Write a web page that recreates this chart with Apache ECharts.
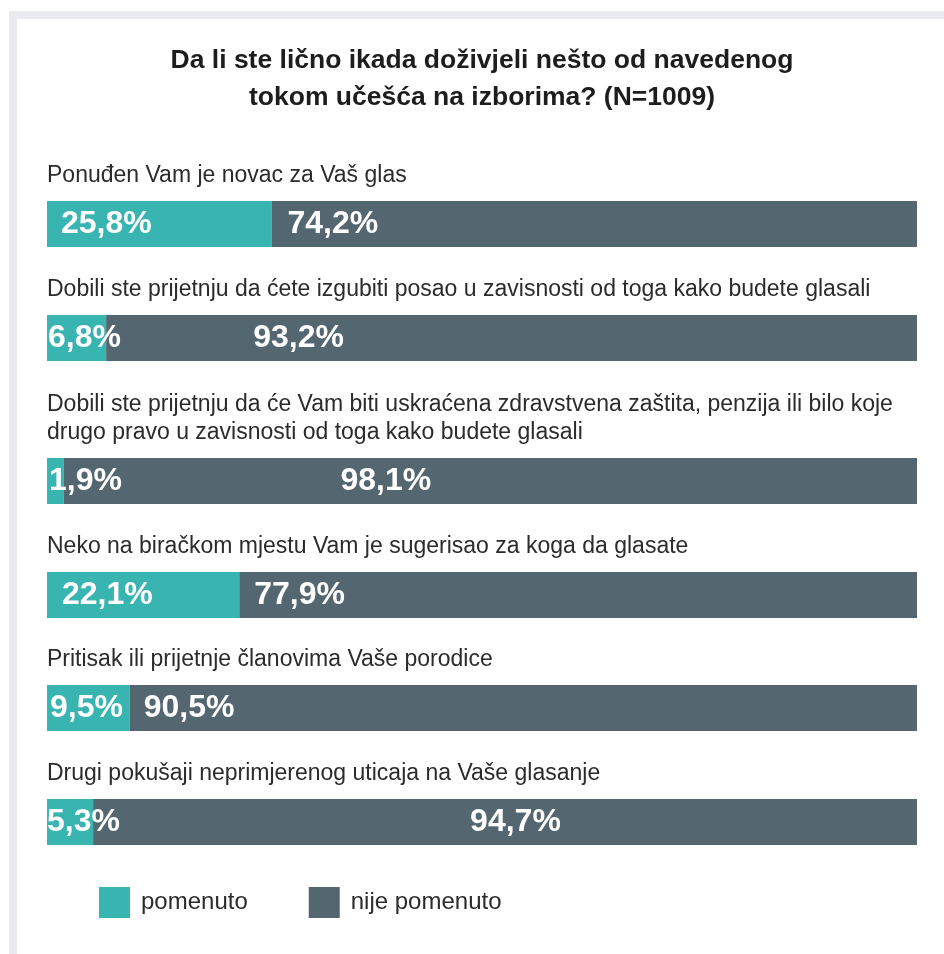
<!DOCTYPE html>
<html>
<head>
<meta charset="utf-8">
<title>Da li ste lično ikada doživjeli nešto od navedenog</title>
<script src="https://cdn.jsdelivr.net/npm/echarts@6/dist/echarts.min.js"></script>
<style>
  html, body { margin: 0; padding: 0; background: #fff; }
  #chart { width: 944px; height: 954px; }
</style>
</head>
<body>
<div id="chart"></div>
<script>
// podaci
const categories = [
  'Ponuđen Vam je novac za Vaš glas',
  'Dobili ste prijetnju da ćete izgubiti posao u zavisnosti od toga kako budete glasali',
  'Dobili ste prijetnju da će Vam biti uskraćena zdravstvena zaštita, penzija ili bilo koje\ndrugo pravo u zavisnosti od toga kako budete glasali',
  'Neko na biračkom mjestu Vam je sugerisao za koga da glasate',
  'Pritisak ili prijetnje članovima Vaše porodice',
  'Drugi pokušaji neprimjerenog uticaja na Vaše glasanje'
];
const pomenuto = [25.8, 6.8, 1.9, 22.1, 9.5, 5.3];
const nijePomenuto = [74.2, 93.2, 98.1, 77.9, 90.5, 94.7];
const seriesNames = ['pomenuto', 'nije pomenuto'];
const titleText = 'Da li ste lično ikada doživjeli nešto od navedenog\ntokom učešća na izborima? (N=1009)';

// raspored i stil
const barTops = [201, 315, 458, 572, 685, 799];
const barHeight = 46;
const tealLabelDist = [14, 1, 2, 15, 3, 0];
const darkLabelDist = [16, 147, 277, 15, 14, 377];
const colors = ['#38b4b1', '#546670'];
const font = "'Liberation Sans', Arial, Helvetica, sans-serif";

function fmt(p) {
  return p.value.toFixed(1).replace('.', ',') + '%';
}

const grids = [], xAxes = [], yAxes = [], series = [];
categories.forEach(function (cat, i) {
  grids.push({ left: 47, right: 27, top: barTops[i], height: barHeight });
  xAxes.push({ gridIndex: i, type: 'value', min: 0, max: 100, show: false });
  yAxes.push({
    gridIndex: i,
    type: 'category',
    data: [cat],
    axisLine: { show: false },
    axisTick: { show: false },
    axisLabel: { show: false },
    splitLine: { show: false },
    name: cat,
    nameLocation: 'end',
    nameGap: 11,
    nameTextStyle: {
      align: 'left',
      verticalAlign: 'bottom',
      fontSize: 23,
      lineHeight: 28,
      color: '#2b2b2b',
      fontFamily: font
    }
  });
  [pomenuto, nijePomenuto].forEach(function (arr, k) {
    series.push({
      name: seriesNames[k],
      type: 'bar',
      xAxisIndex: i,
      yAxisIndex: i,
      stack: 'g' + i,
      barWidth: '100%',
      data: [arr[i]],
      itemStyle: { color: colors[k] },
      emphasis: { disabled: true },
      label: {
        show: true,
        position: 'insideLeft',
        distance: k === 0 ? tealLabelDist[i] : darkLabelDist[i],
        formatter: fmt,
        color: '#fff',
        fontSize: 32,
        fontWeight: 'bold',
        fontFamily: font
      }
    });
  });
});

const chart = echarts.init(document.getElementById('chart'));
chart.setOption({
  animation: false,
  title: {
    text: titleText,
    left: 482,
    textAlign: 'center',
    top: 42,
    padding: 0,
    textStyle: {
      fontSize: 26.5,
      fontWeight: 'bold',
      lineHeight: 37,
      color: '#1d1d1d',
      fontFamily: font
    }
  },
  legend: {
    data: seriesNames,
    left: 99,
    top: 887,
    padding: 0,
    icon: 'rect',
    itemWidth: 31,
    itemHeight: 31,
    itemGap: 61,
    selectedMode: false,
    textStyle: {
      fontSize: 24,
      color: '#2b2b2b',
      fontFamily: font,
      padding: [0, 0, 0, 6]
    }
  },
  graphic: [{
    type: 'rect',
    silent: true,
    shape: { x: 13, y: 15, width: 1000, height: 1000 },
    style: { fill: 'none', stroke: '#e9ebee', lineWidth: 8 }
  }],
  grid: grids,
  xAxis: xAxes,
  yAxis: yAxes,
  series: series
});
</script>
</body>
</html>
